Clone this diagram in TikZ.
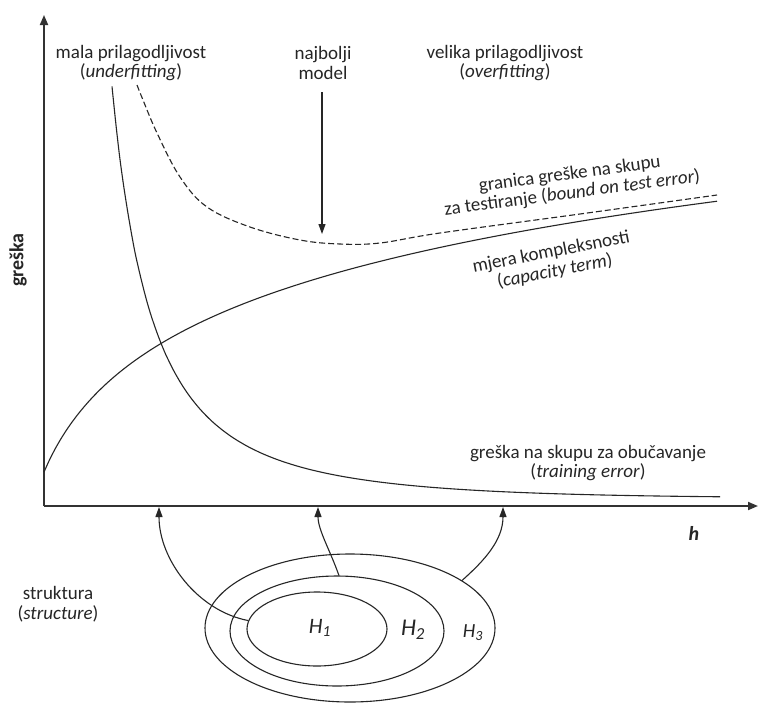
\documentclass[tikz,border=0pt]{standalone}
\usepackage{fontspec}
\setmainfont{Carlito}
\usetikzlibrary{arrows.meta,shapes.geometric}
\begin{document}
\begin{tikzpicture}[x=1pt,y=-1pt,
  lbl/.style={align=center, text=black!85, font=\fontsize{19}{19.5}\selectfont, inner sep=1pt},
  curve/.style={line width=1.1pt, draw=black!85},
  axisline/.style={line width=1.8pt, draw=black!80, -{Triangle[length=10pt,width=8pt]}},
  conn/.style={line width=1.1pt, draw=black!85, -{Triangle[length=10pt,width=7pt]}},
  hset/.style={ellipse, draw=black!85, line width=1.1pt, inner sep=0pt},
  hlbl/.style={text=black!85, inner sep=0pt}]
\useasboundingbox (0,0) rectangle (758,702);
\fill[white] (0,0) rectangle (758,702);

% axes
\coordinate (O) at (44,506);
\coordinate (ytop) at (44,15);
\coordinate (xend) at (758,506);
\draw[axisline] (O) -- (ytop);
\draw[axisline] (O) -- (xend);
\node[lbl, rotate=90, font=\fontsize{20}{20}\selectfont\bfseries] (ylab) at (18,260) {greška};
\node[lbl, font=\fontsize{20}{20}\selectfont\bfseries\itshape] (hlab) at (694,533) {h};

% top labels
\node[lbl] (under) at (131,63) {mala prilagodljivost\\(\textit{underfitting})};
\node[lbl] (best) at (323,63) {najbolji\\model};
\node[lbl] (over) at (505,63) {velika prilagodljivost\\(\textit{overfitting})};
\coordinate (bt) at (322,92);
\coordinate (bb) at (322,234);
\draw[conn] (bt) -- (bb);

% curve labels
\node[lbl, rotate=7.5] (bound) at (571,184) {granica greške na skupu\\za testiranje (\textit{bound on test error})};
\node[lbl, rotate=11] (cap) at (553,262) {mjera kompleksnosti\\(\textit{capacity term})};
\node[lbl] (train) at (588,463) {greška na skupu za obučavanje\\(\textit{training error})};
\node[lbl] (struct) at (58,604) {struktura\\(\textit{structure})};

% curves
\draw[curve, dash pattern=on 6pt off 3pt] plot[smooth, tension=0.6] coordinates {(137,85) (143,100) (157,133) (180,177) (207,207) (250,227) (300,240) (340,244) (380,243) (440,233) (580,214) (717,195)};
\draw[curve] plot[domain=0:673, samples=120, smooth] ({44+\x},{472-94*ln(1+\x/40)});
\draw[curve] plot[domain=0:608, samples=160, smooth] ({112+\x},{498-exp(-(\x/500)^2)/(0.0494+0.00063*\x)^2});

% hypothesis sets
\node[hset, minimum width=290pt, minimum height=148pt] (E3) at (350,628) {};
\node[hset, minimum width=214pt, minimum height=110pt] (E2) at (337,631) {};
\node[hset, minimum width=140pt, minimum height=74pt] (E1) at (317,629) {};
\node[hlbl, font=\fontsize{22}{22}\selectfont\itshape] (h1) at (320,628) {H\textsubscript{1}};
\node[hlbl, font=\fontsize{24}{24}\selectfont\itshape] (h2) at (413,630) {H\textsubscript{2}};
\node[hlbl, font=\fontsize{20}{20}\selectfont\itshape] (h3) at (473,633) {H\textsubscript{3}};

% arrows to h axis
\coordinate (a1) at (159,507);
\coordinate (a2) at (318,507);
\coordinate (a3) at (503,507);
\draw[conn] (E1.173) .. controls (198,611) and (159,560) .. (a1);
\draw[conn] (E2.88) .. controls (330,550) and (318,530) .. (a2);
\draw[conn] (E3.23) .. controls (485,560) and (503,540) .. (a3);
\end{tikzpicture}
\end{document}
